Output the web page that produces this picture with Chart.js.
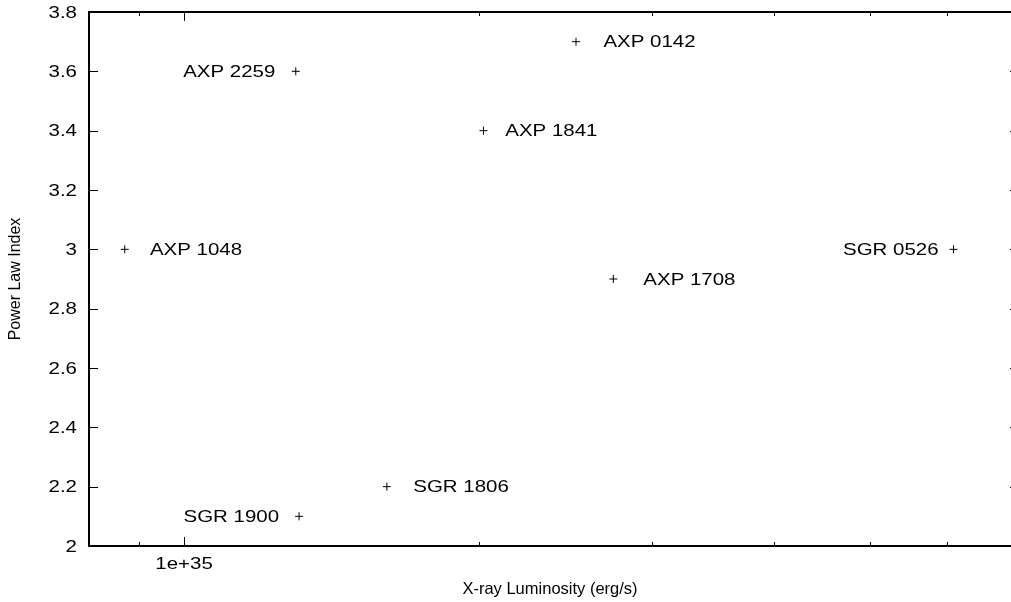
<!DOCTYPE html>
<html>
<head>
<meta charset="utf-8">
<script src="https://cdn.jsdelivr.net/npm/chart.js@4/dist/chart.umd.min.js"></script>
<style>
  html, body { margin:0; padding:0; background:#fff; overflow:hidden; }
</style>
</head>
<body>
<canvas id="c" width="1011" height="602"></canvas>
<script>
// ── data ────────────────────────────────────────────────────────
const names      = ["AXP 1048", "AXP 2259", "SGR 1900", "SGR 1806", "AXP 1841", "AXP 0142", "AXP 1708", "SGR 0526"];
const luminosity = [0.87e35, 1.30e35, 1.31e35, 1.61e35, 2.02e35, 2.51e35, 2.74e35, 6.09e35];
const index      = [3.0, 3.6, 2.1, 2.2, 3.4, 3.7, 2.9, 3.0];
// where each label's text begins (or ends, for left-side labels), in luminosity
const labelAt    = [0.923e35, 1.239e35, 1.25e35, 1.713e35, 2.126e35, 2.677e35, 2.94e35, 5.88e35];
const labelLeft  = ["AXP 2259", "SGR 1900", "SGR 0526"];

// visible part of the x range (the frame's right side is cut off in the original)
const xRange      = [8e34, 6.97e35];
const xMajorTicks = [1e35];
const xTickLabels = ["1e+35"];
const xMinorTicks = [9e34, 2e35, 3e35, 4e35, 5e35, 6e35];
const yRange      = [2, 3.8];
const yTicks      = [2, 2.2, 2.4, 2.6, 2.8, 3, 3.2, 3.4, 3.6, 3.8];
const yTickLabels = ["2", "2.2", "2.4", "2.6", "2.8", "3", "3.2", "3.4", "3.6", "3.8"];

const FONT_FAMILY = "'Liberation Sans', Arial, Helvetica, sans-serif";
const TXT   = "16.5px " + FONT_FAMILY;
const SX    = 1.24;   // gnuplot text looks horizontally stretched
const INK   = "#000";
const OVERHANG = 8;   // right border sits just past the picture edge

function wideText(ctx, text, x, y, align) {
  ctx.save();
  ctx.translate(x, y + 1);
  ctx.scale(SX, 1);
  ctx.font = TXT;
  ctx.fillStyle = INK;
  ctx.textAlign = align;
  ctx.textBaseline = "middle";
  ctx.fillText(text, 0, 0);
  ctx.restore();
}

// frame, inward ticks (mirrored), tick labels and point labels
const gnuplotLook = {
  id: "gnuplotLook",
  // plot area runs right up to the canvas edge
  afterLayout(chart) {
    const x = chart.scales.x, a = chart.chartArea;
    const d = chart.width - a.right;
    a.right += d; a.width += d;
    x.right += d; x.width += d;
    x.configure();
  },
  afterDatasetsDraw(chart) {
    const { ctx, chartArea: a, scales: { x, y } } = chart;
    const right = a.right + OVERHANG;
    ctx.save();
    ctx.strokeStyle = INK;

    ctx.lineWidth = 1;
    ctx.beginPath();
    yTicks.forEach(v => {
      const py = Math.round(y.getPixelForValue(v)) + 0.5;
      ctx.moveTo(a.left, py); ctx.lineTo(a.left + 9, py);
      ctx.moveTo(right, py);  ctx.lineTo(right - 9, py);
    });
    xMajorTicks.forEach(v => {
      const px = Math.round(x.getPixelForValue(v)) + 0.5;
      ctx.moveTo(px, a.bottom); ctx.lineTo(px, a.bottom - 9);
      ctx.moveTo(px, a.top);    ctx.lineTo(px, a.top + 9);
    });
    xMinorTicks.forEach(v => {
      const px = Math.round(x.getPixelForValue(v)) + 0.5;
      ctx.moveTo(px, a.bottom); ctx.lineTo(px, a.bottom - 4);
      ctx.moveTo(px, a.top);    ctx.lineTo(px, a.top + 4);
    });
    ctx.stroke();

    ctx.lineWidth = 2;
    ctx.strokeRect(a.left, a.top, right - a.left, a.bottom - a.top);
    ctx.restore();

    yTicks.forEach((v, i) => wideText(ctx, yTickLabels[i], a.left - 12, y.getPixelForValue(v), "right"));
    xMajorTicks.forEach((v, i) => wideText(ctx, xTickLabels[i], x.getPixelForValue(v), a.bottom + 17, "center"));

    names.forEach((n, i) => {
      const left = labelLeft.includes(n);
      wideText(ctx, n, x.getPixelForValue(labelAt[i]), y.getPixelForValue(index[i]), left ? "right" : "left");
    });
  },
};

new Chart(document.getElementById("c").getContext("2d"), {
  type: "scatter",
  data: {
    datasets: [{
      label: "magnetars",
      data: luminosity.map((l, i) => ({ x: l, y: index[i] })),
      pointStyle: "cross", pointRadius: 4, pointHoverRadius: 4,
      borderColor: INK, backgroundColor: INK, borderWidth: 1,
    }],
  },
  options: {
    responsive: false, animation: false, devicePixelRatio: 1,
    layout: { padding: { top: 12, right: 0, left: 0, bottom: 0 } },
    plugins: { legend: { display: false }, tooltip: { enabled: false } },
    scales: {
      x: {
        type: "logarithmic", min: xRange[0], max: xRange[1],
        grid: { display: false }, border: { display: false },
        ticks: { display: false },
        title: { display: true, text: "X-ray Luminosity (erg/s)", color: INK,
                 font: { family: FONT_FAMILY, size: 16.5 }, padding: { top: 0, bottom: 3 } },
        afterFit: s => { s.height = 56; },
      },
      y: {
        type: "linear", min: yRange[0], max: yRange[1],
        grid: { display: false }, border: { display: false },
        ticks: { display: false, stepSize: 0.2 },
        title: { display: true, text: "Power Law Index", color: INK,
                 font: { family: FONT_FAMILY, size: 16 }, padding: { top: 6, bottom: 0 } },
        afterFit: s => { s.width = 89; },
      },
    },
  },
  plugins: [gnuplotLook],
});
</script>
</body>
</html>
